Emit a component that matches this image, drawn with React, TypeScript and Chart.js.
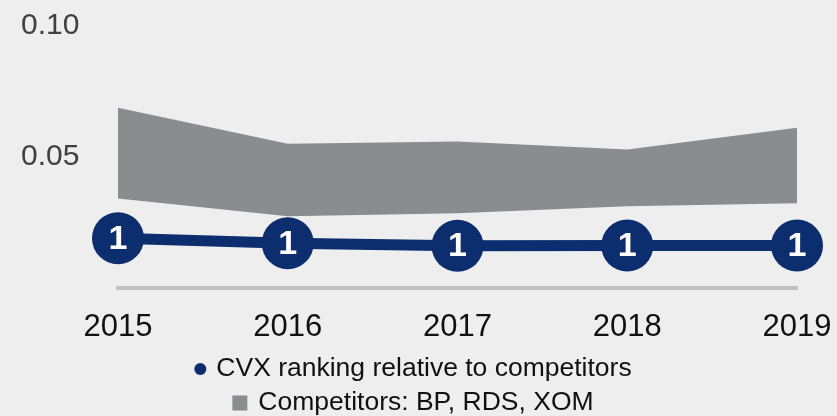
import React, { useEffect, useRef } from "react";
import { Chart, registerables } from "chart.js";

Chart.register(...registerables);

const years = ["2015", "2016", "2017", "2018", "2019"];
const cvxValues = [0.019, 0.0171, 0.0161, 0.0162, 0.0162];
const cvxRanks = ["1", "1", "1", "1", "1"];
const competitorLow = [0.0342, 0.0274, 0.0285, 0.0312, 0.0323];
const competitorHigh = [0.0688, 0.0551, 0.0559, 0.0529, 0.0612];
const yTicks = [0, 0.05, 0.1];

const NAVY = "#0c2d6e";
const BAND = "#8a8c8f";
const BG = "#eeeeee";
const FONT = "'Liberation Sans', Arial, Helvetica, sans-serif";

const rankLabels = {
  id: "rankLabels",
  afterDatasetsDraw(chart: any) {
    const meta = chart.getDatasetMeta(0);
    const ctx = chart.ctx;
    ctx.save();
    ctx.fillStyle = "#ffffff";
    ctx.font = `bold 34px ${FONT}`;
    ctx.textAlign = "center";
    ctx.textBaseline = "middle";
    meta.data.forEach((pt: any, i: number) => {
      ctx.fillText(cvxRanks[i], pt.x, pt.y + 1);
    });
    ctx.restore();
  },
};

const customLegend = {
  id: "customLegend",
  afterDraw(chart: any) {
    const ctx = chart.ctx;
    const cx = 413;
    ctx.save();
    ctx.font = `26.5px ${FONT}`;
    ctx.textBaseline = "middle";
    ctx.textAlign = "left";
    // row 1
    const t1 = "CVX ranking relative to competitors";
    const w1 = ctx.measureText(t1).width;
    const total1 = 12 + 10 + w1;
    const x1 = cx - total1 / 2;
    const y1 = 369;
    ctx.fillStyle = NAVY;
    ctx.beginPath();
    ctx.arc(x1 + 6, y1, 6, 0, Math.PI * 2);
    ctx.fill();
    ctx.fillStyle = "#111111";
    ctx.fillText(t1, x1 + 22, y1);
    // row 2
    const t2 = "Competitors: BP, RDS, XOM";
    const w2 = ctx.measureText(t2).width;
    const total2 = 15 + 11 + w2;
    const x2 = cx - total2 / 2;
    const y2 = 403;
    ctx.fillStyle = BAND;
    ctx.fillRect(x2, y2 - 7.5, 15, 15);
    ctx.fillStyle = "#111111";
    ctx.fillText(t2, x2 + 26, y2);
    ctx.restore();
  },
};

const bgPlugin = {
  id: "bgFill",
  beforeDraw(chart: any) {
    const ctx = chart.ctx;
    ctx.save();
    ctx.fillStyle = BG;
    ctx.fillRect(0, 0, chart.width, chart.height);
    ctx.restore();
  },
};

export default function App() {
  const ref = useRef<HTMLCanvasElement | null>(null);

  useEffect(() => {
    document.body.style.margin = "0";
    document.body.style.background = BG;
    if (!ref.current) return;
    const chart = new Chart(ref.current, {
      type: "line",
      data: {
        labels: years,
        datasets: [
          {
            label: "CVX ranking relative to competitors",
            data: cvxValues,
            borderColor: NAVY,
            backgroundColor: NAVY,
            borderWidth: 11,
            pointRadius: 26,
            pointBackgroundColor: NAVY,
            pointBorderWidth: 0,
            fill: false,
            tension: 0,
          },
          {
            label: "low",
            data: competitorLow,
            borderWidth: 0,
            borderColor: "rgba(0,0,0,0)",
            pointRadius: 0,
            fill: false,
            tension: 0,
          },
          {
            label: "Competitors: BP, RDS, XOM",
            data: competitorHigh,
            borderWidth: 0,
            borderColor: "rgba(0,0,0,0)",
            backgroundColor: BAND,
            pointRadius: 0,
            fill: 1,
            tension: 0,
          },
        ],
      },
      options: {
        responsive: false,
        animation: false,
        layout: { padding: { left: 21, right: 40, top: 24, bottom: 0 } },
        plugins: {
          legend: { display: false },
          tooltip: { enabled: false },
        },
        scales: {
          x: {
            offset: false,
            grid: { display: false, drawTicks: false },
            border: { display: true, color: "#c0c0c0", width: 4 },
            ticks: {
              color: "#111111",
              font: { family: FONT, size: 31 },
              padding: 21,
              maxRotation: 0,
              autoSkip: false,
            },
            afterFit(scale: any) {
              scale.height = 128;
              scale.paddingLeft = 0;
              scale.paddingRight = 0;
            },
          },
          y: {
            min: 0,
            max: 0.1,
            afterBuildTicks(scale: any) {
              scale.ticks = yTicks.map((v) => ({ value: v }));
            },
            grid: { display: false, drawTicks: false },
            border: { display: false },
            ticks: {
              color: "#404040",
              font: { family: FONT, size: 30 },
              crossAlign: "far",
              callback: (v: any) => (Number(v) === 0 ? "" : Number(v).toFixed(2)),
            },
            afterFit(scale: any) {
              scale.width = 97;
              scale.paddingTop = 0;
              scale.paddingBottom = 0;
            },
          },
        },
      },
      plugins: [bgPlugin, rankLabels, customLegend],
    } as any);
    return () => chart.destroy();
  }, []);

  return (
    <div style={{ width: 837, height: 416, background: BG }}>
      <canvas ref={ref} width={837} height={416} style={{ display: "block" }} />
    </div>
  );
}
